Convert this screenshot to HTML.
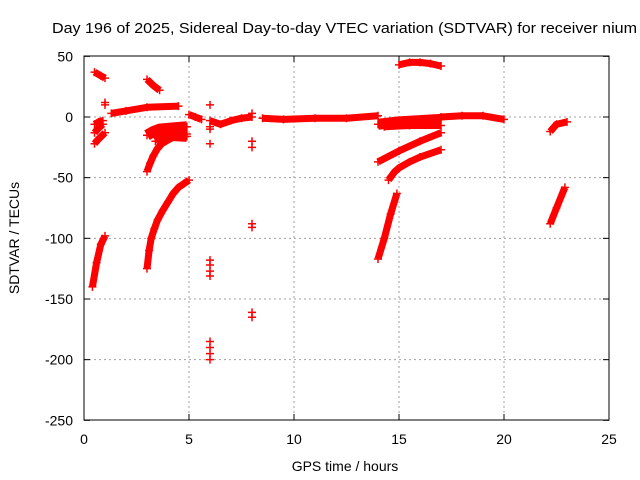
<!DOCTYPE html>
<html><head><meta charset="utf-8"><style>
body{margin:0;background:#fff}
svg{display:block;font-family:"Liberation Sans",sans-serif}
</style></head><body>
<svg id="chart" width="640" height="480" viewBox="0 0 640 480">
<rect width="640" height="480" fill="#fff"/>
<text x="52" y="33" font-size="15" textLength="585" lengthAdjust="spacingAndGlyphs">Day 196 of 2025, Sidereal Day-to-day VTEC variation (SDTVAR) for receiver nium</text>
<text x="345" y="471" font-size="14" text-anchor="middle">GPS time / hours</text>
<text x="0" y="0" font-size="14" text-anchor="middle" transform="translate(19,238) rotate(-90)">SDTVAR / TECUs</text>
<g id="grid"></g><g id="ticks"></g><g id="marks"></g>
<rect x="84" y="56" width="525" height="364" fill="none" stroke="#000" stroke-width="1"/>
</svg>
<script>
const xTicks=[0,5,10,15,20,25];
const yTicks=[50,0,-50,-100,-150,-200,-250];
// tracks: [hour, value] pairs
const track1=[[0.4,-140],[0.6,-120],[0.8,-105],[1.0,-98]];
const track2=[[0.5,-22],[0.7,-18],[1.0,-13]];
const track3=[[0.5,-6],[0.7,-4],[0.9,-3]];
const track4=[[0.5,-13],[0.7,-9],[0.9,-6]];
const track5=[[0.5,37],[0.8,34],[1.0,32]];
const track6=[[1.3,3],[2.0,5],[3.0,8],[4.5,9]];
const track7=[[3.0,31],[3.3,26],[3.6,22]];
const track8=[[3.0,-125],[3.1,-110],[3.2,-100],[3.35,-92],[3.5,-85],[3.75,-77],[4.0,-70],[4.25,-63],[4.5,-58],[4.75,-55],[5.0,-52]];
const track9=[[3.0,-45],[3.15,-38],[3.3,-32],[3.5,-26],[3.7,-22],[4.2,-17],[4.9,-14]];
const track10=[[3.0,-15],[3.3,-12],[3.6,-10],[4.2,-9],[4.9,-8]];
const track11=[[3.4,-20],[3.7,-17],[4.0,-15],[4.9,-16]];
const track12=[[5.0,2],[5.3,0],[5.6,-2]];
const track13=[[6.0,-3],[6.5,-6],[7.0,-3],[7.5,-1],[8.0,0]];
const track14=[[8.5,-1],[9.5,-2],[11,-1],[12.5,-1],[14,1]];
const track15=[[14,-6],[15,-4],[16,-3],[17,-2]];
const track16=[[14.3,-8],[15.5,-7],[17,-7]];
const track17=[[17,0],[18,1],[19,1],[20,-2]];
const track18=[[15,43],[15.5,45],[16,45],[16.5,44],[17,42]];
const track19=[[14,-37],[15,-28],[16,-20],[17,-13]];
const track20=[[14.5,-52],[14.8,-45],[15,-42],[15.5,-37],[16,-33],[17,-27]];
const track21=[[14,-117],[14.3,-100],[14.6,-80],[14.9,-63]];
const track22=[[22.2,-88],[22.5,-75],[22.9,-58]];
const track23=[[22.2,-12],[22.5,-6],[23,-4]];
const tracks=[track1,track2,track3,track4,track5,track6,track7,track8,track9,track10,track11,track12,track13,track14,track15,track16,track17,track18,track19,track20,track21,track22,track23];
const isolated=[[1.0,12],[1.0,10],[6.0,10],[6.0,-8],[6.0,-10],[6.0,-22],[6.0,-118],[6.0,-122],[6.0,-127],[6.0,-131],[6.0,-185],[6.0,-190],[6.0,-195],[6.0,-200],[8.0,3],[8.0,-20],[8.0,-25],[8.0,-88],[8.0,-91],[8.0,-161],[8.0,-165]];
const X=h=>84+h*21, Y=v=>117-v*1.2133;
const NS="http://www.w3.org/2000/svg";
function mk(t,a){const e=document.createElementNS(NS,t);for(const k in a)e.setAttribute(k,a[k]);return e;}
const grid=document.getElementById('grid'),ticks=document.getElementById('ticks'),marks=document.getElementById('marks');
xTicks.forEach(t=>{const x=X(t);
 if(t>0&&t<25){const g=mk('line',{x1:x,y1:56,x2:x,y2:420,stroke:'#a0a0a0','stroke-dasharray':'2,3'});
 
 grid.appendChild(g);}
 ticks.appendChild(mk('line',{x1:x,y1:420,x2:x,y2:414,stroke:'#000'}));
 ticks.appendChild(mk('line',{x1:x,y1:56,x2:x,y2:62,stroke:'#000'}));
 const l=mk('text',{x:x,y:444,'font-size':14,'text-anchor':'middle'});l.textContent=t;
 
 ticks.appendChild(l);});
yTicks.forEach(t=>{const y=Y(t);
 if(t<50&&t>-250){const g=mk('line',{x1:84,y1:y,x2:609,y2:y,stroke:'#a0a0a0','stroke-dasharray':'2,3'});
 
 grid.appendChild(g);}
 ticks.appendChild(mk('line',{x1:84,y1:y,x2:90,y2:y,stroke:'#000'}));
 ticks.appendChild(mk('line',{x1:609,y1:y,x2:603,y2:y,stroke:'#000'}));
 const l=mk('text',{x:73,y:y+5,'font-size':14,'text-anchor':'end'});l.textContent=t;
 
 ticks.appendChild(l);});
function plus(h,v){const x=X(h),y=Y(v);
 const p=mk('path',{d:`M${x-4},${y}H${x+4}M${x},${y-4}V${y+4}`,stroke:'#f00','stroke-width':1.5});
 
 marks.appendChild(p);}
tracks.forEach((tr,i)=>{
 const w=(tr===track10||tr===track11||tr===track15)?11:7;
 const pl=mk('polyline',{points:tr.map(p=>X(p[0])+','+Y(p[1])).join(' '),fill:'none',stroke:'#f00','stroke-width':w,'stroke-linejoin':'round'});
 
 marks.appendChild(pl);
 tr.forEach(p=>plus(p[0],p[1]));});
isolated.forEach(p=>plus(p[0],p[1]));
</script>
</body></html>
